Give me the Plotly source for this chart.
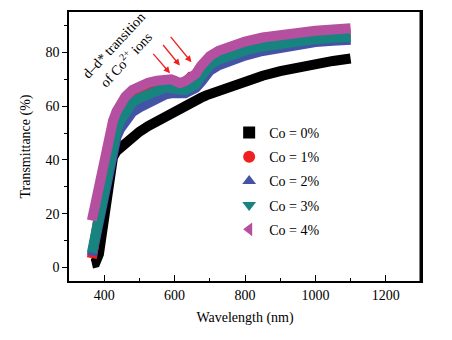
import plotly.graph_objects as go

# ---- data ----
wavelength = [365, 375, 385, 395, 405, 415, 425, 435, 445, 460, 480, 500, 525, 550, 575, 590,
              600, 615, 630, 645, 660, 675, 690, 700, 725, 750, 800, 850, 900, 950, 1000, 1050, 1100]

co0 = [1.5, 1.8, 5, 15, 27, 36, 41, 43.3, 44.6, 46.5, 48.5, 50.5, 52.6, 54.5, 56.3, 57.3,
       58, 59, 60.1, 61.1, 62.1, 63.1, 64, 64.5, 65.8, 67, 69.3, 71.3, 73, 74.5, 75.8, 76.8, 77.7]
co1 = [3.5, 13.5, 20.5, 27.5, 34.5, 41.5, 47.5, 52.5, 56, 59.5, 62.8, 64.5, 66, 67.7, 68.5, 68.3,
       68, 67.3, 68.5, 70.8, 70.5, 72.8, 75.5, 76.8, 78.8, 80.3, 82.3, 83.8, 84.9, 85.8, 86.4, 86.9, 87.2]
co2 = [4.5, 11, 18.3, 25.3, 32.3, 39, 44, 48.5, 51.5, 54.8, 57.8, 59.5, 61.3, 62.9, 64.4, 64.8,
       64.7, 64.2, 64.8, 65.8, 66.8, 69, 71.8, 73.2, 75.2, 76.6, 78.8, 80.5, 81.9, 83, 83.8, 84.3, 84.7]
co3 = [5.5, 12, 19, 26, 33, 40, 46, 51, 54.5, 58, 61.3, 63, 64.5, 66.2, 67, 66.6,
       66.3, 65.7, 66, 67, 68, 71, 74, 75.3, 77.2, 78.7, 80.7, 82.2, 83.3, 84.2, 84.9, 85.4, 85.8]
co4 = [17.5, 24, 30.5, 37, 44, 50, 54.5, 58, 60.5, 63.5, 66, 67.5, 68.7, 69.5, 70.1, 70,
       69.5, 68.6, 69.3, 70.5, 72, 75, 77.5, 78.6, 80.6, 82, 84, 85.5, 86.6, 87.4, 88, 88.5, 89]

series_names = ["Co = 0%", "Co = 1%", "Co = 2%", "Co = 3%", "Co = 4%"]
series_values = [co0, co1, co2, co3, co4]

# annotation text lines and their centres (wavelength, transmittance)
note_lines = ["d\u2013d* transition", "of Co<sup>2+</sup> ions"]
note_x = [428, 460]
note_y = [82.5, 77.5]

# arrow heads (wavelength, transmittance)
arrow_x = [587, 615, 648]
arrow_y = [72.2, 75.1, 76.3]

# ---- styles ----
colors = ["#000000", "#EE2020", "#4453A6", "#17847F", "#B4509F"]
symbols = ["square", "circle", "triangle-up", "triangle-down", "triangle-left"]
FONT = "Liberation Serif, Times New Roman, serif"

fig = go.Figure()

for name, vals, col in zip(series_names, series_values, colors):
    fig.add_trace(go.Scatter(x=wavelength, y=vals, mode="lines",
                             line=dict(color=col, width=10),
                             showlegend=False, hoverinfo="skip"))

for i, (name, col, sym) in enumerate(zip(series_names, colors, symbols)):
    fig.add_trace(go.Scatter(x=[None], y=[None], mode="markers", name=name,
                             legendgroup=f"g{i}",
                             marker=dict(color=col, symbol=sym, size=10)))

for txt, nx, ny in zip(note_lines, note_x, note_y):
    fig.add_annotation(x=nx, y=ny, xref="x", yref="y", text=txt,
                       textangle=-47, showarrow=False, xanchor="center", yanchor="middle",
                       font=dict(family=FONT, size=14, color="black"))

offsets = [(-18, -21), (-18, -22), (-22, -27)]
for hx, hy, (ox, oy) in zip(arrow_x, arrow_y, offsets):
    fig.add_annotation(x=hx, y=hy, xref="x", yref="y", ax=ox, ay=oy, text="",
                       showarrow=True, arrowcolor="#EE2020", arrowwidth=1.3,
                       arrowhead=2, arrowsize=1, standoff=0)

fig.add_shape(type="line", xref="paper", yref="paper", x0=1, x1=1, y0=0, y1=1,
              line=dict(color="black", width=3))

fig.update_layout(
    width=452, height=340,
    margin=dict(l=69, r=31, t=10, b=59),
    paper_bgcolor="white", plot_bgcolor="white",
    font=dict(family=FONT, size=14, color="black"),
    showlegend=True,
    legend=dict(x=0.455, y=0.61, xanchor="left", yanchor="top",
                bgcolor="rgba(0,0,0,0)", font=dict(family=FONT, size=14),
                itemsizing="constant", tracegroupgap=3),
)

fig.update_xaxes(range=[300, 1300], tick0=400, dtick=200, ticks="inside", ticklen=6,
                 tickwidth=1.2, tickcolor="black", showline=True, linecolor="black",
                 linewidth=1.5, mirror=True, showgrid=False, zeroline=False,
                 minor=dict(ticks="inside", ticklen=3, tick0=300, dtick=100, tickcolor="black"),
                 tickfont=dict(family=FONT, size=14),
                 title=dict(text="Wavelength (nm)", font=dict(family=FONT, size=14), standoff=11))

fig.update_yaxes(range=[-5, 95], tick0=0, dtick=20, ticks="outside", ticklen=5,
                 tickwidth=1.2, tickcolor="black", showline=True, linecolor="black",
                 linewidth=1.5, mirror=True, showgrid=False, zeroline=False,
                 minor=dict(ticks="outside", ticklen=3, tick0=0, dtick=10, tickcolor="black"),
                 tickfont=dict(family=FONT, size=14),
                 title=dict(text="Transmittance (%)", font=dict(family=FONT, size=14), standoff=12))

fig.write_html("out.html")
